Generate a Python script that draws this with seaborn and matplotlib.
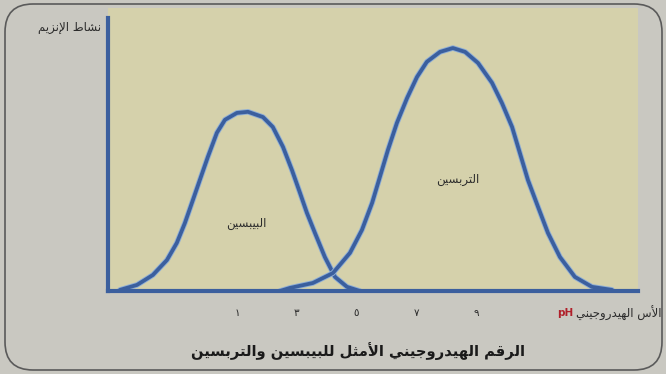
import numpy as np
import pandas as pd
import seaborn as sns
import matplotlib
matplotlib.use("Agg")
import matplotlib.pyplot as plt
from matplotlib.patches import FancyBboxPatch
import matplotlib.patheffects as pe

# ---------------- data ----------------
pepsin_ph = [-2.91, -2.34, -1.81, -1.34, -1.01, -0.74, -0.47, -0.24, 0.03, 0.33, 0.60,
             1.00, 1.37, 1.87, 2.20, 2.54, 2.84, 3.11, 3.34, 3.61, 3.94, 4.28, 4.68, 5.11]
pepsin_act = [0.4, 2.2, 5.8, 11.2, 17.4, 24.6, 33.0, 40.2, 48.6, 57.3, 62.0,
              64.5, 64.9, 63.0, 59.4, 52.2, 43.8, 35.5, 28.3, 21.0, 12.3, 5.1, 1.5, 0.0]

trypsin_ph = [2.44, 2.77, 3.54, 4.21, 4.78, 5.18, 5.52, 5.78, 6.05, 6.35, 6.69, 7.02, 7.35,
              7.79, 8.22, 8.63, 9.06, 9.53, 9.86, 10.20, 10.46, 10.73, 11.07, 11.40,
              11.80, 12.30, 12.87, 13.54]
trypsin_act = [0.0, 1.1, 2.9, 6.5, 13.8, 22.1, 31.9, 41.3, 51.1, 60.9, 69.9, 77.5, 83.0,
               86.6, 88.0, 86.6, 82.6, 75.4, 68.1, 59.4, 50.0, 40.2, 30.4, 21.0,
               12.3, 5.1, 1.5, 0.4]

tick_values = [1, 3, 5, 7, 9]
tick_labels = ["١", "٣", "٥", "٧", "٩"]

enzyme_names = ["البيبسين", "التربسين"]
ylabel_text = "نشاط الإنزيم"
xlabel_text = "الأس الهيدروجيني"
xlabel_unit = "pH"
title_text = "الرقم الهيدروجيني الأمثل للبيبسين والتربسين"

# ---------------- simple Arabic shaping (presentation forms, RTL) ----------------
FORMS = {
    'ا': ('\uFE8D', '\uFE8E', None, None),
    'أ': ('\uFE83', '\uFE84', None, None),
    'إ': ('\uFE87', '\uFE88', None, None),
    'ب': ('\uFE8F', '\uFE90', '\uFE91', '\uFE92'),
    'ت': ('\uFE95', '\uFE96', '\uFE97', '\uFE98'),
    'ث': ('\uFE99', '\uFE9A', '\uFE9B', '\uFE9C'),
    'ج': ('\uFE9D', '\uFE9E', '\uFE9F', '\uFEA0'),
    'د': ('\uFEA9', '\uFEAA', None, None),
    'ر': ('\uFEAD', '\uFEAE', None, None),
    'ز': ('\uFEAF', '\uFEB0', None, None),
    'س': ('\uFEB1', '\uFEB2', '\uFEB3', '\uFEB4'),
    'ش': ('\uFEB5', '\uFEB6', '\uFEB7', '\uFEB8'),
    'ط': ('\uFEC1', '\uFEC2', '\uFEC3', '\uFEC4'),
    'ق': ('\uFED5', '\uFED6', '\uFED7', '\uFED8'),
    'ل': ('\uFEDD', '\uFEDE', '\uFEDF', '\uFEE0'),
    'م': ('\uFEE1', '\uFEE2', '\uFEE3', '\uFEE4'),
    'ن': ('\uFEE5', '\uFEE6', '\uFEE7', '\uFEE8'),
    'ه': ('\uFEE9', '\uFEEA', '\uFEEB', '\uFEEC'),
    'و': ('\uFEED', '\uFEEE', None, None),
    'ي': ('\uFEF1', '\uFEF2', '\uFEF3', '\uFEF4'),
    'ى': ('\uFEEF', '\uFEF0', None, None),
}
LAMALEF = {'ا': ('\uFEFB', '\uFEFC'), 'أ': ('\uFEF7', '\uFEF8'), 'إ': ('\uFEF9', '\uFEFA')}


def _dual(c):
    return c in FORMS and FORMS[c][2] is not None


def shape(text):
    out = []
    i, n = 0, len(text)
    while i < n:
        c = text[i]
        prev = text[i - 1] if i > 0 else ''
        jp = _dual(prev)
        if c == 'ل' and i + 1 < n and text[i + 1] in LAMALEF:
            out.append(LAMALEF[text[i + 1]][1 if jp else 0])
            i += 2
            continue
        if c not in FORMS:
            out.append(c)
            i += 1
            continue
        nxt = text[i + 1] if i + 1 < n else ''
        jn = _dual(c) and nxt in FORMS
        iso, fin, ini, med = FORMS[c]
        if jp and jn:
            out.append(med)
        elif jp:
            out.append(fin)
        elif jn:
            out.append(ini)
        else:
            out.append(iso)
        i += 1
    return ''.join(reversed(out))


# ---------------- figure ----------------
sns.set_style("white")
plt.rcParams['font.family'] = ['DejaVu Sans']

BG = "#c9c8c1"
PLOT_BG = "#d5d1ab"
BLUE = "#3b5f9e"
HALO = "#8eaed6"
TXT = "#2b2b2b"

W, H = 666, 374
fig = plt.figure(figsize=(W / 100, H / 100), dpi=100, facecolor=BG)

# axes area (pixel frame: left 108, right 638, top 8, bottom 291)
ax = fig.add_axes([108 / W, (H - 291) / H, (638 - 108) / W, (291 - 8) / H])
ax.set_facecolor(PLOT_BG)

df = pd.concat([
    pd.DataFrame({"pH": pepsin_ph, "activity": pepsin_act, "enzyme": enzyme_names[0]}),
    pd.DataFrame({"pH": trypsin_ph, "activity": trypsin_act, "enzyme": enzyme_names[1]}),
], ignore_index=True)

sns.lineplot(data=df, x="pH", y="activity", units="enzyme", estimator=None,
             color=BLUE, linewidth=2.7, ax=ax, legend=False,
             path_effects=[pe.Stroke(linewidth=4.0, foreground=HALO, joinstyle="round"),
                           pe.Normal()])
for ln in ax.lines:
    ln.set_solid_joinstyle("round")
    ln.set_solid_capstyle("round")

ax.set_xlim(-3.31, 14.41)
ax.set_ylim(0, 102.5)

for s in ["top", "right"]:
    ax.spines[s].set_visible(False)
for s in ["left", "bottom"]:
    ax.spines[s].set_color(BLUE)
    ax.spines[s].set_linewidth(3.0)
ax.spines["left"].set_bounds(0, 98.9)

ax.set_xticks(tick_values)
ax.set_xticklabels(tick_labels, fontsize=7.5, color=TXT)
ax.set_yticks([])
ax.tick_params(axis="x", length=0, pad=12)
ax.set_xlabel("")
ax.set_ylabel("")

# curve labels
ax.text(1.3, 24.5, shape(enzyme_names[0]), fontsize=8.5, color=TXT, ha="center", va="center")
ax.text(8.4, 40.5, shape(enzyme_names[1]), fontsize=8.5, color=TXT, ha="center", va="center")

# y label (top-left, outside the axes)
fig.text(101 / W, 1 - 27 / H, shape(ylabel_text), fontsize=8.5, color=TXT,
         ha="right", va="center")

# x label (right of tick row) with red "pH" just to its left
xl = fig.text(662 / W, 1 - 313 / H, shape(xlabel_text), fontsize=8.5, color=TXT,
              ha="right", va="center")
fig.canvas.draw()
bb = xl.get_window_extent()
fig.text((bb.x0 - 3) / W, 1 - 313 / H, xlabel_unit, fontsize=7.5, color="#b0202a",
         fontweight="bold", ha="right", va="center")

# title below
fig.text(358 / W, 1 - 351 / H, shape(title_text), fontsize=10.6, color="#1a1a1a",
         fontweight="bold", ha="center", va="center")

# rounded frame
frame = FancyBboxPatch((5, 4), 657, 366, boxstyle="round,pad=0,rounding_size=28",
                       transform=None, fill=False, ec="#5a5a5a", lw=1.2)
fig.patches.append(frame)

fig.savefig("out.png", dpi=100, facecolor=BG)
